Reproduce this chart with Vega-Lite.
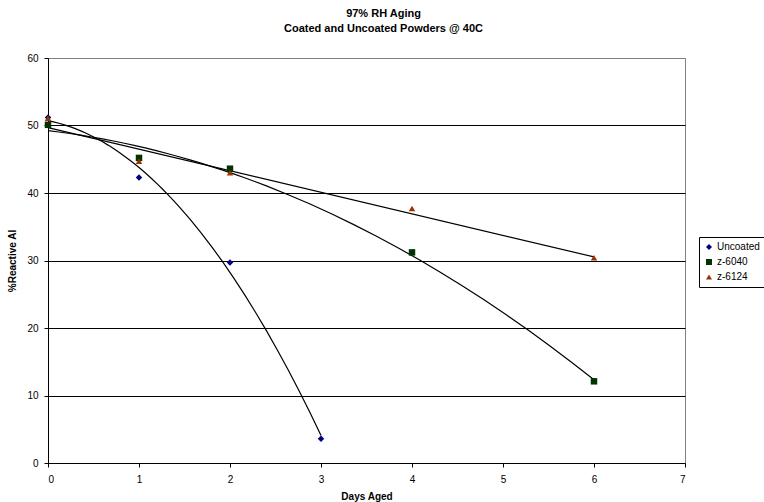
{
  "$schema": "https://vega.github.io/schema/vega-lite/v6.json",
  "width": 637,
  "height": 405,
  "autosize": {"type": "none"},
  "padding": {"left": 48, "top": 58, "right": 79, "bottom": 39},
  "background": "white",
  "config": {
    "font": "Liberation Sans",
    "view": {"stroke": "#808080", "strokeWidth": 1}
  },
  "title": {
    "text": ["97% RH Aging", "Coated and Uncoated Powders @ 40C"],
    "fontSize": 11,
    "fontWeight": "bold",
    "lineHeight": 15,
    "anchor": "middle",
    "dx": 17,
    "offset": 19,
    "color": "black"
  },
  "data": {
    "values": [
      {"series": "Uncoated", "day": 0, "value": 51.2},
      {"series": "Uncoated", "day": 1, "value": 42.3},
      {"series": "Uncoated", "day": 2, "value": 29.7},
      {"series": "Uncoated", "day": 3, "value": 3.6},
      {"series": "z-6040", "day": 0, "value": 50.1},
      {"series": "z-6040", "day": 1, "value": 45.2},
      {"series": "z-6040", "day": 2, "value": 43.6},
      {"series": "z-6040", "day": 4, "value": 31.2},
      {"series": "z-6040", "day": 6, "value": 12.1},
      {"series": "z-6124", "day": 0, "value": 51.1},
      {"series": "z-6124", "day": 1, "value": 44.7},
      {"series": "z-6124", "day": 2, "value": 43.0},
      {"series": "z-6124", "day": 4, "value": 37.7},
      {"series": "z-6124", "day": 6, "value": 30.4}
    ]
  },
  "encoding": {
    "x": {
      "field": "day", "type": "quantitative",
      "scale": {"domain": [0, 7], "nice": false, "zero": false},
      "axis": {
        "title": "Days Aged", "values": [0, 1, 2, 3, 4, 5, 6, 7],
        "grid": false, "domainColor": "black", "tickColor": "black",
        "tickSize": 4, "labelFontSize": 10, "labelColor": "black",
        "titleFontSize": 10, "titleFontWeight": "bold", "titleColor": "black",
        "labelPadding": 7, "titlePadding": 7, "format": "d"
      }
    },
    "y": {
      "field": "value", "type": "quantitative",
      "scale": {"domain": [0, 60], "nice": false},
      "axis": {
        "title": "%Reactive Al", "values": [0, 10, 20, 30, 40, 50, 60],
        "grid": true,
        "gridColor": {"condition": {"test": "datum.value === 60", "value": "#808080"}, "value": "black"},
        "gridOpacity": 1,
        "domainColor": "black", "tickColor": "black",
        "tickSize": 4, "labelFontSize": 10, "labelColor": "black",
        "titleFontSize": 10, "titleFontWeight": "bold", "titleColor": "black",
        "labelPadding": 6, "titlePadding": 9
      }
    }
  },
  "layer": [
    {
      "transform": [
        {"filter": "datum.series === 'Uncoated'"},
        {"regression": "value", "on": "day", "method": "poly", "order": 2, "extent": [0, 3]}
      ],
      "mark": {"type": "line", "color": "black", "strokeWidth": 1.2}
    },
    {
      "transform": [
        {"filter": "datum.series === 'z-6040'"},
        {"regression": "value", "on": "day", "method": "poly", "order": 2, "extent": [0, 6]}
      ],
      "mark": {"type": "line", "color": "black", "strokeWidth": 1.2}
    },
    {
      "transform": [
        {"filter": "datum.series === 'z-6124'"},
        {"regression": "value", "on": "day", "method": "linear", "extent": [0, 6]}
      ],
      "mark": {"type": "line", "color": "black", "strokeWidth": 1.2}
    },
    {
      "mark": {"type": "point", "filled": true, "size": 42, "opacity": 1},
      "encoding": {
        "color": {
          "field": "series", "type": "nominal",
          "scale": {"domain": ["Uncoated", "z-6040", "z-6124"], "range": ["#000080", "#003300", "#993300"]},
          "legend": {
            "title": null, "orient": "none", "legendX": 651, "legendY": 179,
            "strokeColor": "black", "padding": 5, "labelFontSize": 10,
            "labelColor": "black", "symbolSize": 36, "rowPadding": 5,
            "labelOffset": 3, "fillColor": "white"
          }
        },
        "shape": {
          "field": "series", "type": "nominal",
          "scale": {"domain": ["Uncoated", "z-6040", "z-6124"], "range": ["diamond", "square", "triangle-up"]}
        }
      }
    }
  ]
}
